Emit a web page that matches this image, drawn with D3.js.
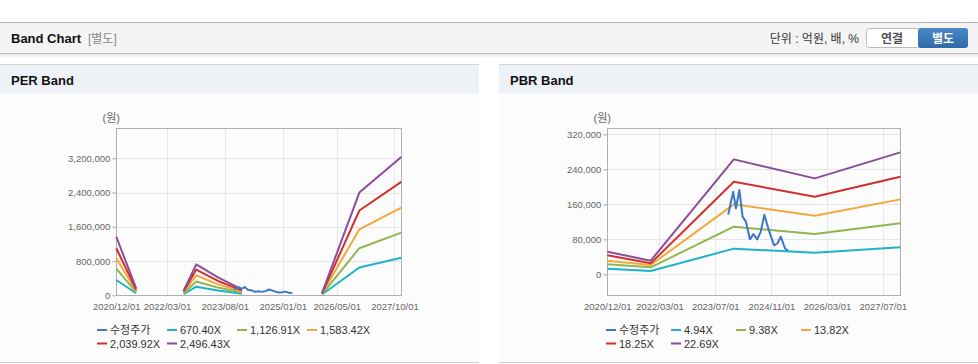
<!DOCTYPE html>
<html>
<head>
<meta charset="utf-8">
<script src="https://cdn.jsdelivr.net/npm/d3@7"></script>
<style>
  body { margin: 0; background: #fff; }
  svg { display: block; font-family: Arial, "Liberation Sans", "Noto Sans CJK KR", sans-serif; }
</style>
</head>
<body>
<div id="chart-area"></div>
<script>
// ---- data ----
let seriesNames = ["수정주가", "670.40X", "1,126.91X", "1,583.42X", "2,039.92X", "2,496.43X"];
let pbrNames = ["수정주가", "4.94X", "9.38X", "13.82X", "18.25X", "22.69X"];
let colors = ["#3b78c8", "#1db4c9", "#8fb64f", "#f4a83a", "#d1302c", "#8c4c9c"];

// adjusted price (shared by both charts)
let priceDates = ["2023-10-22", "2023-12-04", "2023-12-28", "2024-01-27", "2024-02-24", "2024-03-25",
  "2024-04-28", "2024-05-28", "2024-07-01", "2024-07-31", "2024-09-01", "2024-10-15",
  "2024-11-25", "2024-12-25", "2025-01-22", "2025-03-01", "2025-03-28"];
let price = [137000, 189000, 151000, 193000, 132000, 120000, 80000, 92000, 80000, 97000,
  136000, 97000, 66000, 71000, 86000, 59000, 54000];

// PER band (null = no data)
let perDates = ["2020-12-01", "2021-05-28", "2021-07-01", "2022-07-28", "2022-11-18", "2023-06-01",
  "2024-01-01", "2024-02-01", "2025-12-20", "2026-11-20", "2027-12-01"];
let per1 = [357000, 47000, null, 29000, 200000, 110000, 38000, null, 20000, 650000, 875000];
let per2 = [625000, 76000, null, 49000, 322000, 180000, 63000, null, 30000, 1100000, 1465000];
let per3 = [865000, 102000, null, 69000, 466000, 255000, 89000, null, 40000, 1540000, 2050000];
let per4 = [1100000, 130000, null, 89000, 600000, 335000, 114000, null, 45000, 1980000, 2650000];
let per5 = [1367000, 163000, null, 109000, 722000, 419000, 140000, null, 50000, 2400000, 3230000];
let perYTicks = [0, 800000, 1600000, 2400000, 3200000];
let perXTicks = ["2020-12-01", "2022-03-01", "2023-08-01", "2025-01-01", "2026-05-01", "2027-10-01"];

// PBR band
let pbrDates = ["2020-12-01", "2021-12-15", "2023-12-10", "2025-11-15", "2027-12-01"];
let pbr1 = [13000, 7600, 58700, 49500, 61700];
let pbr2 = [22900, 16000, 109000, 92200, 116600];
let pbr3 = [31200, 21300, 160000, 134000, 171400];
let pbr4 = [43400, 25100, 211800, 177500, 223200];
let pbr5 = [51800, 31200, 262900, 219400, 278900];
let pbrYTicks = [0, 80000, 160000, 240000, 320000];
let pbrXTicks = ["2020-12-01", "2022-03-01", "2023-07-01", "2024-11-01", "2026-03-01", "2027-07-01"];

let parse = d3.timeParse("%Y-%m-%d");
let fmtDate = d3.timeFormat("%Y/%m/%d");

let svg = d3.select("#chart-area").append("svg")
    .attr("width", 978)
    .attr("height", 364);

// ---- page header ----
let defs = svg.append("defs");
let sh = defs.append("linearGradient").attr("id", "shadow").attr("x1", 0).attr("y1", 0).attr("x2", 0).attr("y2", 1);
sh.append("stop").attr("offset", 0).attr("stop-color", "#000").attr("stop-opacity", 0.12);
sh.append("stop").attr("offset", 1).attr("stop-color", "#000").attr("stop-opacity", 0);
let bg = defs.append("linearGradient").attr("id", "btn").attr("x1", 0).attr("y1", 0).attr("x2", 0).attr("y2", 1);
bg.append("stop").attr("offset", 0).attr("stop-color", "#4a88c6");
bg.append("stop").attr("offset", 1).attr("stop-color", "#2f6aa8");

svg.append("rect").attr("x", 0).attr("y", 22).attr("width", 978).attr("height", 31).attr("fill", "#f4f4f4");
svg.append("rect").attr("x", 0).attr("y", 53).attr("width", 978).attr("height", 5).attr("fill", "url(#shadow)");
svg.append("line").attr("x1", 0).attr("x2", 978).attr("y1", 22.5).attr("y2", 22.5).attr("stroke", "#b4b4b4");
svg.append("line").attr("x1", 0).attr("x2", 978).attr("y1", 53.5).attr("y2", 53.5).attr("stroke", "#bdbdbd");

svg.append("text").attr("x", 11).attr("y", 43)
    .attr("font-size", 13).attr("font-weight", "bold").attr("fill", "#111")
    .text("Band Chart");
svg.append("text").attr("x", 88).attr("y", 43)
    .attr("font-size", 12).attr("fill", "#888")
    .text("[별도]");
svg.append("text").attr("x", 859).attr("y", 43).attr("text-anchor", "end")
    .attr("font-size", 12).attr("fill", "#333")
    .text("단위 : 억원, 배, %");

svg.append("rect").attr("x", 866.5).attr("y", 28.5).attr("width", 54).attr("height", 19).attr("rx", 3)
    .attr("fill", "#fff").attr("stroke", "#bbb");
svg.append("rect").attr("x", 918).attr("y", 28).attr("width", 50).attr("height", 20).attr("rx", 3)
    .attr("fill", "url(#btn)");
svg.append("text").attr("x", 892).attr("y", 43).attr("text-anchor", "middle")
    .attr("font-size", 12).attr("font-weight", "bold").attr("fill", "#555").text("연결");
svg.append("text").attr("x", 943).attr("y", 43).attr("text-anchor", "middle")
    .attr("font-size", 12).attr("font-weight", "bold").attr("fill", "#fff").text("별도");

// ---- panels ----
function panel(x0, w, title) {
  svg.append("rect").attr("x", x0).attr("y", 64).attr("width", w).attr("height", 298).attr("fill", "#fcfcfc");
  svg.append("rect").attr("x", x0).attr("y", 65).attr("width", w).attr("height", 28).attr("fill", "#eef2f7");
  svg.append("line").attr("x1", x0).attr("x2", x0 + w).attr("y1", 64.5).attr("y2", 64.5).attr("stroke", "#d6d6d6");
  svg.append("line").attr("x1", x0).attr("x2", x0 + w).attr("y1", 362.5).attr("y2", 362.5).attr("stroke", "#d0d0d0");
  svg.append("text").attr("x", x0 + 11).attr("y", 85)
      .attr("font-size", 13).attr("font-weight", "bold").attr("fill", "#111")
      .text(title);
}
panel(0, 479, "PER Band");
panel(499, 479, "PBR Band");

// ---- chart ----
function drawChart(cfg) {
  let x = d3.scaleTime()
      .domain([parse("2020-12-01"), parse("2027-12-01")])
      .range([cfg.left, cfg.right]);
  let y = d3.scaleLinear()
      .domain(cfg.yDomain)
      .range([295.3, 128.3]);

  let g = svg.append("g");

  // grid
  g.selectAll(".hgrid").data(cfg.yTicks).enter().append("line")
      .attr("x1", cfg.left).attr("x2", cfg.right)
      .attr("y1", d => Math.round(y(d)) + 0.5).attr("y2", d => Math.round(y(d)) + 0.5)
      .attr("stroke", "#e6e6e6");
  g.selectAll(".vgrid").data(cfg.xTicks.map(parse)).enter().append("line")
      .attr("y1", 128.3).attr("y2", 295.3)
      .attr("x1", d => Math.round(x(d)) + 0.5).attr("x2", d => Math.round(x(d)) + 0.5)
      .attr("stroke", "#e6e6e6");

  // axes
  let yAxis = d3.axisLeft(y).tickValues(cfg.yTicks).tickSize(4).tickPadding(2)
      .tickFormat(d3.format(","));
  let xAxis = d3.axisBottom(x).tickValues(cfg.xTicks.map(parse)).tickSize(0).tickPadding(8)
      .tickFormat(fmtDate);

  let yg = g.append("g").attr("transform", "translate(" + cfg.left + ",0)").call(yAxis);
  let xg = g.append("g").attr("transform", "translate(0,295.3)").call(xAxis);
  [yg, xg].forEach(a => {
    a.select(".domain").remove();
    a.selectAll("line").attr("stroke", "#aaa");
    a.selectAll("text").attr("fill", "#666").attr("font-size", 9.5)
        .attr("font-family", "Arial, 'Liberation Sans', sans-serif");
  });

  // frame
  g.append("rect")
      .attr("x", Math.round(cfg.left) + 0.5).attr("y", 128.5)
      .attr("width", Math.round(cfg.right - cfg.left)).attr("height", 167)
      .attr("fill", "none").attr("stroke", "#b0b0b0");

  g.append("text").attr("x", cfg.left - 5).attr("y", 122).attr("text-anchor", "middle")
      .attr("font-size", 11).attr("fill", "#666").text("(원)");

  // lines
  let line = d3.line()
      .defined(d => d.v != null)
      .x(d => x(d.date))
      .y(d => y(d.v));

  cfg.bands.forEach((vals, i) => {
    let pts = cfg.dates.map((d, j) => ({date: parse(d), v: vals[j]}));
    g.append("path").datum(pts)
        .attr("d", line)
        .attr("fill", "none")
        .attr("stroke", colors[i + 1])
        .attr("stroke-width", 2)
        .attr("stroke-linejoin", "round");
  });

  let pricePts = priceDates.map((d, j) => ({date: parse(d), v: price[j]}));
  g.append("path").datum(pricePts)
      .attr("d", line)
      .attr("fill", "none")
      .attr("stroke", colors[0])
      .attr("stroke-width", 2)
      .attr("stroke-linejoin", "round");

  // legend
  let leg = g.selectAll(".leg").data(cfg.names).enter().append("g")
      .attr("transform", (d, i) => "translate(" + (cfg.legX + (i % 4) * cfg.legStep) + "," + (330 + Math.floor(i / 4) * 13.5) + ")");
  leg.append("line").attr("x1", 0).attr("x2", 10).attr("y1", 0).attr("y2", 0)
      .attr("stroke", (d, i) => colors[i]).attr("stroke-width", 2);
  leg.append("text").attr("x", 13).attr("y", 4)
      .attr("font-size", 11).attr("fill", "#333")
      .text(d => d);
}

drawChart({
  left: 116.3, right: 401.3,
  yDomain: [0, 3900000],
  yTicks: perYTicks, xTicks: perXTicks,
  dates: perDates, bands: [per1, per2, per3, per4, per5],
  names: seriesNames, legX: 97, legStep: 70
});

drawChart({
  left: 607.3, right: 900.3,
  yDomain: [-48000, 334000],
  yTicks: pbrYTicks, xTicks: pbrXTicks,
  dates: pbrDates, bands: [pbr1, pbr2, pbr3, pbr4, pbr5],
  names: pbrNames, legX: 606, legStep: 65
});
</script>
</body>
</html>
